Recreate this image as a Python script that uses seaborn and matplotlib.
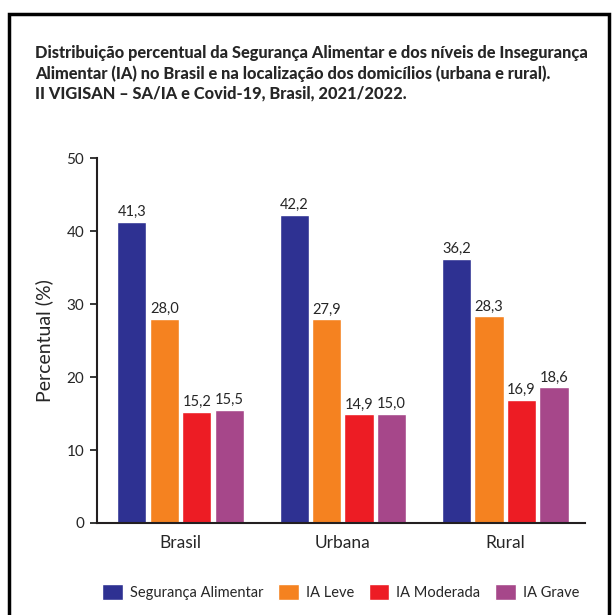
import pandas as pd
import matplotlib.pyplot as plt
import seaborn as sns
from matplotlib.patches import Rectangle

# dados
locais = ['Brasil', 'Urbana', 'Rural']
niveis = ['Segurança Alimentar', 'IA Leve', 'IA Moderada', 'IA Grave']
seg_alimentar = [41.3, 42.2, 36.2]
ia_leve = [28.0, 27.9, 28.3]
ia_moderada = [15.2, 14.9, 16.9]
ia_grave = [15.5, 15.0, 18.6]
yticks = [0, 10, 20, 30, 40, 50]

titulo = ('Distribuição percentual da Segurança Alimentar e dos níveis de Insegurança\n'
          'Alimentar (IA) no Brasil e na localização dos domicílios (urbana e rural).\n'
          'II VIGISAN – SA/IA e Covid-19, Brasil, 2021/2022.')

cores = ['#2E3192', '#F58220', '#ED1C24', '#A6478A']

df = pd.DataFrame({'local': locais * 4,
                   'nivel': [n for n in niveis for _ in locais],
                   'valor': seg_alimentar + ia_leve + ia_moderada + ia_grave})

sns.set_style("white")
plt.rcParams['font.family'] = ['Lato', 'DejaVu Sans']

fig = plt.figure(figsize=(6.13, 6.15), dpi=100)
ax = fig.add_axes([0.158, 0.1496, 0.796, 0.5934])

sns.barplot(data=df, x='local', y='valor', hue='nivel', palette=cores,
            width=0.8, gap=0.1, saturation=1, ax=ax, legend=True)

for c in ax.containers:
    ax.bar_label(c, fmt=lambda v: '{:.1f}'.format(v).replace('.', ','),
                 padding=2, fontsize=10.5)

ax.set_ylim(0, 50)
ax.set_xlim(-0.515, 2.49)
ax.set_yticks(yticks)
ax.set_xlabel('')
ax.set_ylabel('Percentual (%)', fontsize=14, labelpad=10)
ax.tick_params(axis='y', length=5, width=1.3, labelsize=11, left=True, pad=4)
ax.tick_params(axis='x', length=0, labelsize=12.5, pad=9)
sns.despine(ax=ax)
for s in ['left', 'bottom']:
    ax.spines[s].set_linewidth(1.5)
    ax.spines[s].set_color('#231F20')

ax.legend(loc='upper center', bbox_to_anchor=(0.5, -0.13), ncol=4, frameon=False,
          fontsize=10.5, handlelength=1.4, handleheight=1.4, handletextpad=0.5,
          columnspacing=1.0)

fig.text(0.057, 0.927, titulo, fontsize=11.8, weight='black', ha='left', va='top',
         linespacing=1.3)

# moldura
fig.patches.append(Rectangle((0.015, -0.05), 0.978, 1.027, transform=fig.transFigure,
                             fill=False, edgecolor='black', linewidth=2.5))

plt.savefig('out.png', dpi=100)
